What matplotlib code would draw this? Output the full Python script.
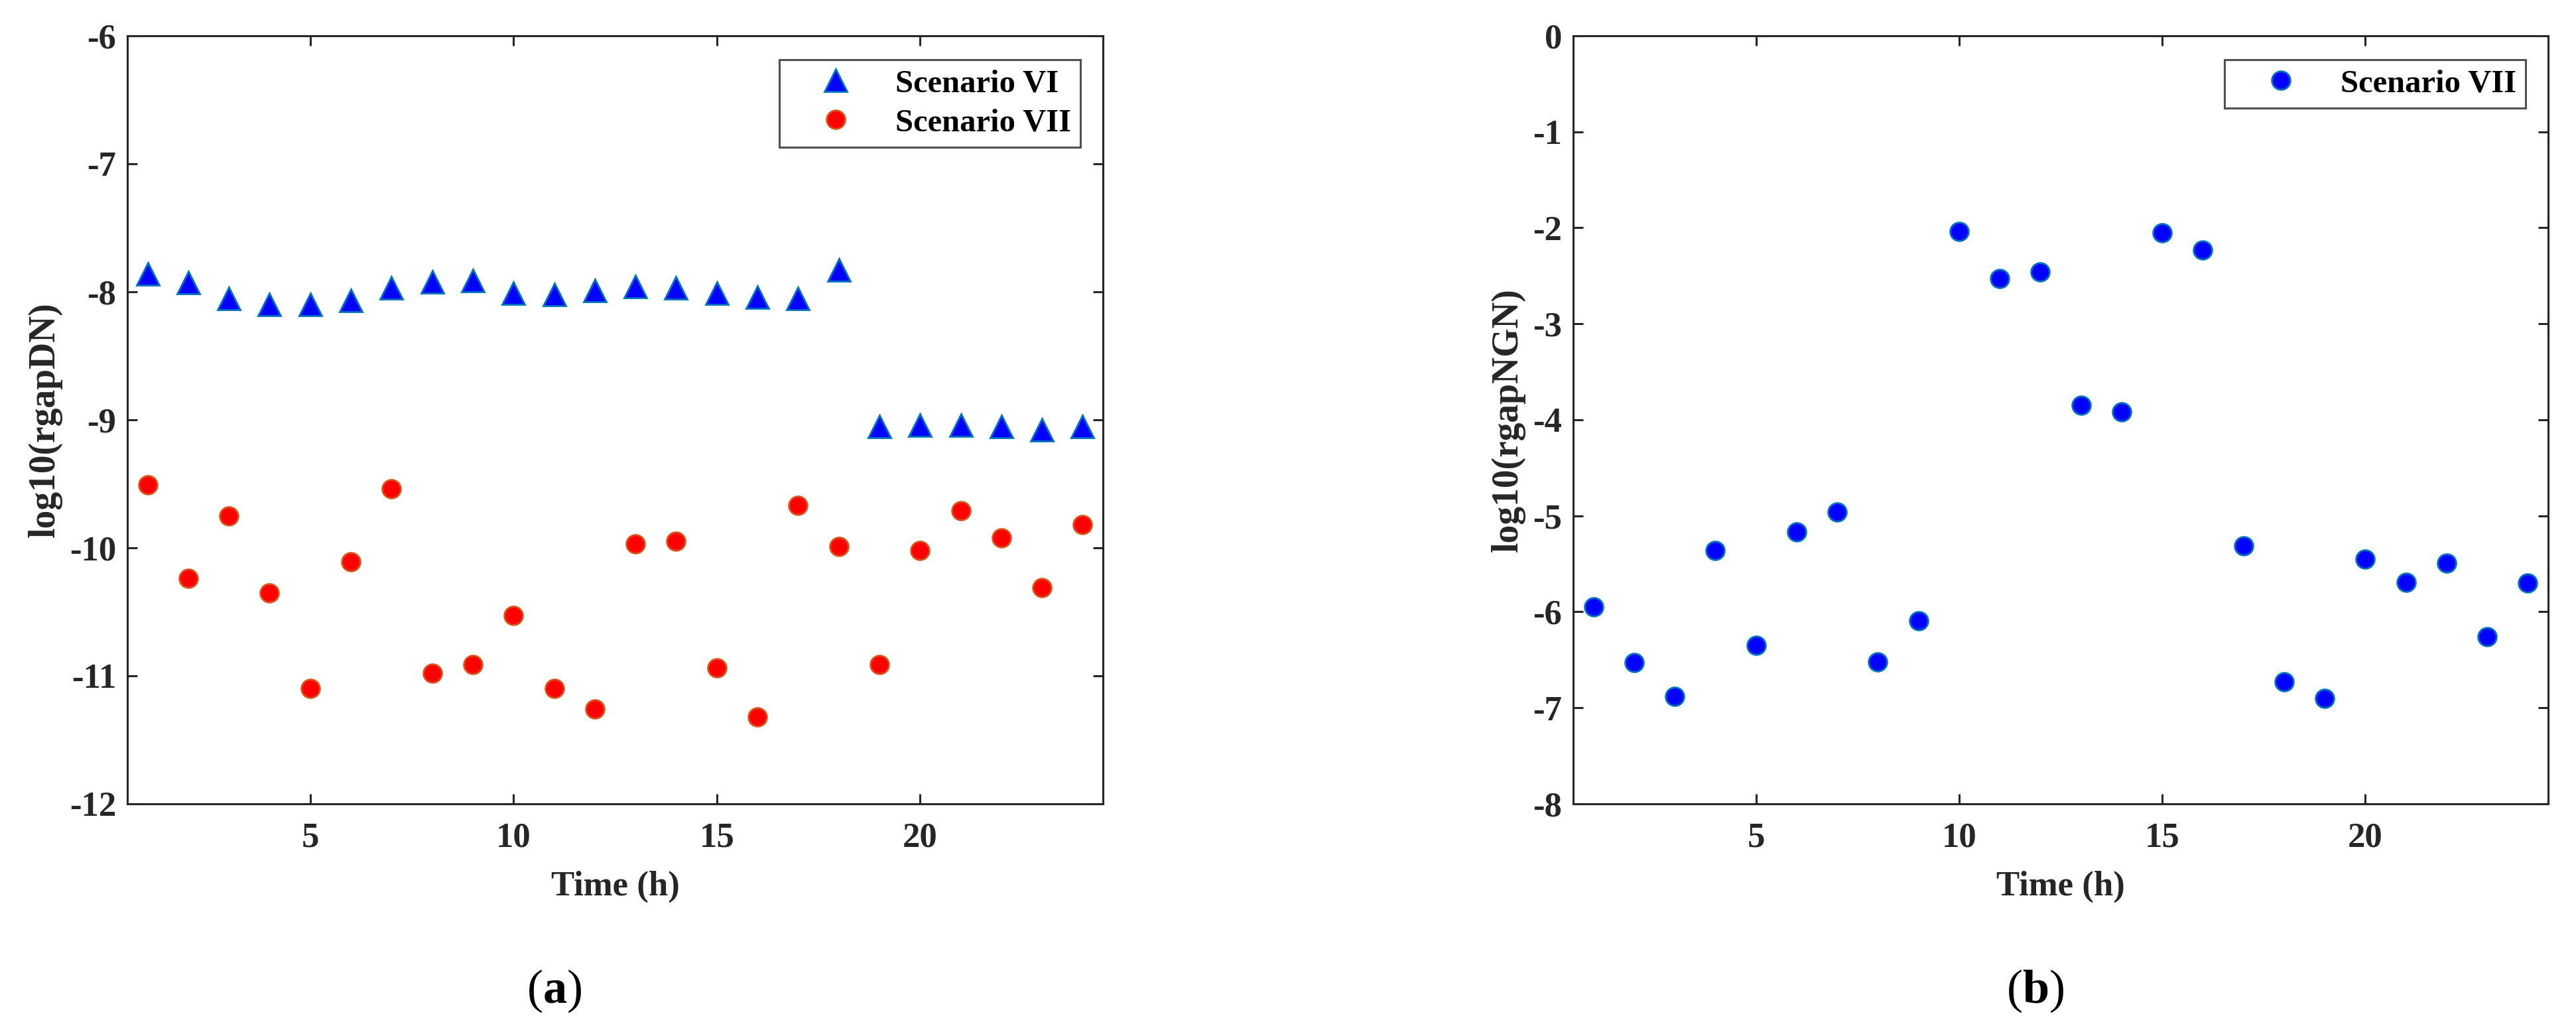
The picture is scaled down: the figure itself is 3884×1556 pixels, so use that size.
import numpy as np
import matplotlib.pyplot as plt

# hours
hours = np.arange(1, 25)

# panel (a): log10(rgapDN)
scen6_dn = [-7.86, -7.93, -8.05, -8.10, -8.10, -8.07, -7.97, -7.92, -7.91, -8.01, -8.02, -7.99,
            -7.96, -7.97, -8.01, -8.04, -8.05, -7.83, -9.05, -9.04, -9.04, -9.05, -9.08, -9.05]
scen7_dn = [-9.51, -10.24, -9.75, -10.35, -11.10, -10.11, -9.54, -10.98, -10.91, -10.53, -11.10, -11.26,
            -9.97, -9.95, -10.94, -11.32, -9.67, -9.99, -10.91, -10.02, -9.71, -9.92, -10.31, -9.82]

# panel (b): log10(rgapNGN)
scen7_ngn = [-5.95, -6.53, -6.88, -5.36, -6.35, -5.17, -4.96, -6.52, -6.09, -2.04, -2.53, -2.46,
             -3.85, -3.92, -2.05, -2.23, -5.31, -6.73, -6.90, -5.45, -5.69, -5.49, -6.26, -5.70]

xticks = [5, 10, 15, 20]
yticks_a = [-12, -11, -10, -9, -8, -7, -6]
yticks_b = [-8, -7, -6, -5, -4, -3, -2, -1, 0]

plt.rcParams['font.family'] = ['Liberation Serif', 'DejaVu Serif']
plt.rcParams['axes.unicode_minus'] = False
plt.rcParams['mathtext.fontset'] = 'custom'
plt.rcParams['mathtext.rm'] = 'Liberation Serif'
plt.rcParams['mathtext.bf'] = 'Liberation Serif:bold'

dark = '#262626'

fig = plt.figure(figsize=(38.84, 15.56), dpi=100)
ax1 = fig.add_axes([0.0494, 0.2211, 0.3788, 0.7442])
ax2 = fig.add_axes([0.6107, 0.2211, 0.3785, 0.7442])


def style(ax, yticks, ylabel):
    ax.set_xlim(0.5, 24.5)
    ax.set_ylim(yticks[0], yticks[-1])
    ax.set_xticks(xticks)
    ax.set_yticks(yticks)
    ax.tick_params(direction='in', length=11, width=2.2, color=dark, labelcolor=dark,
                   labelsize=38, top=True, right=True)
    ax.tick_params(axis='x', pad=20)
    ax.tick_params(axis='y', pad=12)
    for lab in ax.get_xticklabels() + ax.get_yticklabels():
        lab.set_fontweight('bold')
    for s in ax.spines.values():
        s.set_linewidth(2.2)
        s.set_color(dark)
    ax.set_xlabel('Time (h)', fontsize=38, fontweight='bold', color=dark, labelpad=18)
    ax.set_ylabel(ylabel, fontsize=40, fontweight='bold', color=dark, labelpad=8)


ax1.plot(hours, scen6_dn, linestyle='none', marker='^', ms=24, mfc='#0000ff',
         mec='#0072bd', mew=2, label='Scenario VI')
ax1.plot(hours, scen7_dn, linestyle='none', marker='o', ms=20, mfc='#ff0000',
         mec='#d95319', mew=2, label='Scenario VII')
style(ax1, yticks_a, 'log10(rgapDN)')

ax2.plot(hours, scen7_ngn, linestyle='none', marker='o', ms=20, mfc='#0000ff',
         mec='#0072bd', mew=2, label='Scenario VII')
style(ax2, yticks_b, 'log10(rgapNGN)')

for ax in (ax1, ax2):
    leg = ax.legend(loc='upper right', bbox_to_anchor=(0.977, 0.969), borderaxespad=0,
                    fancybox=False, numpoints=1, handlelength=2.9, handletextpad=0.4,
                    borderpad=0.3, labelspacing=0.3,
                    prop={'family': 'Liberation Serif', 'weight': 'bold', 'size': 35})
    leg.get_frame().set_edgecolor(dark)
    leg.get_frame().set_linewidth(2.2)

fig.text(0.215, 0.04, r'$(\mathbf{a})$', fontsize=52, ha='center', va='center')
fig.text(0.79, 0.04, r'$(\mathbf{b})$', fontsize=52, ha='center', va='center')

fig.savefig('out.png', dpi=100, facecolor='white')
